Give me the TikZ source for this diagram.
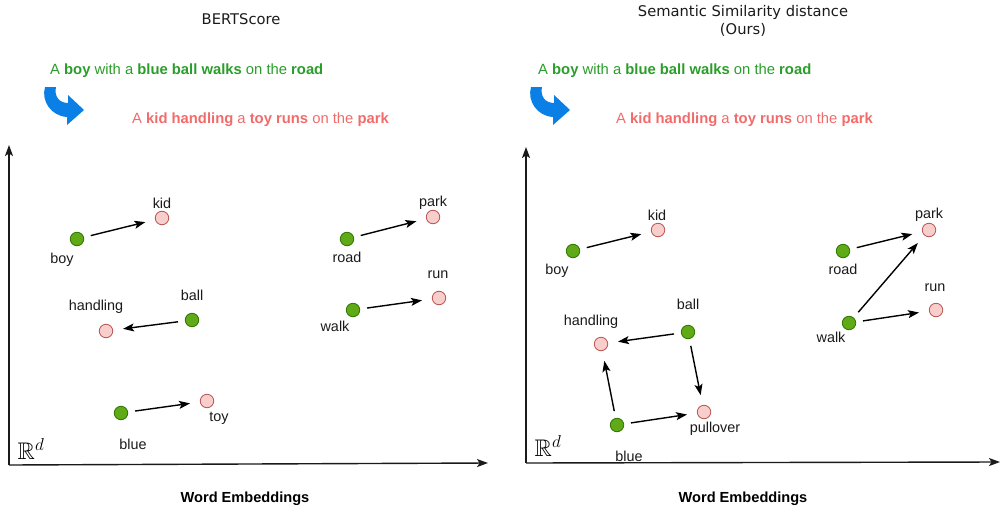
\documentclass[tikz,border=0pt]{standalone}
\usepackage{fontspec}
\usepackage{amssymb}
\setmainfont{Liberation Sans}
\newfontfamily\titlefont{DejaVu Sans}
\usetikzlibrary{arrows.meta}

\definecolor{dotgreen}{HTML}{60A917}
\definecolor{dotgreenline}{HTML}{2D7600}
\definecolor{dotpink}{HTML}{F8CECC}
\definecolor{dotpinkline}{HTML}{B85450}
\definecolor{txtgreen}{HTML}{2A9D2A}
\definecolor{txtred}{HTML}{F26B6B}
\definecolor{curlblue}{HTML}{0A7FE6}
\definecolor{ink}{HTML}{1A1A1A}

\tikzset{
  src/.style={circle, fill=dotgreen, draw=dotgreenline, line width=0.8pt,
              minimum size=13.5pt, inner sep=0pt},
  tgt/.style={circle, fill=dotpink, draw=dotpinkline, line width=0.8pt,
              minimum size=13.5pt, inner sep=0pt},
  lbl/.style={text=ink, inner sep=0pt, font=\fontsize{14.4}{15}\selectfont},
  title/.style={text=ink, inner sep=0pt, align=center,
                font=\titlefont\fontsize{14.7}{18}\selectfont},
  sent/.style={inner sep=0pt, anchor=west, font=\fontsize{14.8}{16}\selectfont},
  xlabel/.style={text=black, inner sep=0pt, font=\bfseries\fontsize{14.6}{15}\selectfont},
  rd/.style={text=black, inner sep=0pt, font=\fontsize{24}{24}\selectfont},
  move/.style={draw=black, line width=1.4pt, shorten <=7pt, shorten >=10pt,
               -{Stealth[length=11pt,width=8pt,inset=2.5pt]}},
  axis/.style={draw=ink, line width=1.4pt,
               -{Stealth[length=11pt,width=8pt,inset=2.5pt]}},
  curl/.style={fill=curlblue, draw=none}
}

% curved "becomes" arrow, top-left corner at the given offset
\newcommand{\curlarrow}[2]{%
  \fill[curl, shift={(#1,#2)}]
    (0,0) .. controls (-4,14) and (6,29) .. (22,30)
    -- (22,38) -- (39,23) -- (23,8) -- (23,16)
    .. controls (14,16) and (9,9) .. (11,0) -- cycle;}

\begin{document}
\begin{tikzpicture}[x=1pt,y=-1pt]
\useasboundingbox (0,0) rectangle (1000,511);

% ---------------- left panel: BERTScore ----------------
\node[title] (titleL) at (241,19) {BERTScore};
\node[sent, text=txtgreen] (srcL) at (50,71)
  {A \textbf{boy} with a \textbf{blue ball walks} on the \textbf{road}};
\node[sent, text=txtred] (tgtL) at (132,120)
  {A \textbf{kid handling} a \textbf{toy runs} on the \textbf{park}};
\curlarrow{45}{87}

\coordinate (oL) at (9,465);
\coordinate (yL) at (9,145);
\coordinate (xL) at (488,463);
\draw[axis] (oL) -- (yL);
\draw[axis] (oL) -- (xL);
\node[rd] (rdL) at (31,449) {$\mathbb{R}^d$};
\node[xlabel] (xlL) at (245,499) {Word Embeddings};

\node[src] (boyL) at (77,239) {};
\node[tgt] (kidL) at (162,218) {};
\node[src] (ballL) at (192,320) {};
\node[tgt] (handL) at (106,331) {};
\node[src] (blueL) at (121,413) {};
\node[tgt] (toyL) at (207,401) {};
\node[src] (roadL) at (347,239) {};
\node[tgt] (parkL) at (433,217) {};
\node[src] (walkL) at (353,310) {};
\node[tgt] (runL) at (439,298) {};

\node[lbl] at (62,260) {boy};
\node[lbl] at (162,203) {kid};
\node[lbl] at (192,295) {ball};
\node[lbl] at (96,307) {handling};
\node[lbl] at (133,444) {blue};
\node[lbl] at (219,418) {toy};
\node[lbl] at (347,257) {road};
\node[lbl] at (433,203) {park};
\node[lbl] at (335,326) {walk};
\node[lbl] at (438,275) {run};

\draw[move] (boyL) -- (kidL);
\draw[move] (ballL) -- (handL);
\draw[move] (blueL) -- (toyL);
\draw[move] (roadL) -- (parkL);
\draw[move] (walkL) -- (runL);

% ---------------- right panel: ours ----------------
\node[title] (titleR) at (743,21) {Semantic Similarity distance\\(Ours)};
\node[sent, text=txtgreen] (srcR) at (538,71)
  {A \textbf{boy} with a \textbf{blue ball walks} on the \textbf{road}};
\node[sent, text=txtred] (tgtR) at (616,120)
  {A \textbf{kid handling} a \textbf{toy runs} on the \textbf{park}};
\curlarrow{531}{87}

\coordinate (oR) at (526,463);
\coordinate (yR) at (526,147);
\coordinate (xR) at (1000,462);
\draw[axis] (oR) -- (yR);
\draw[axis] (oR) -- (xR);
\node[rd] (rdR) at (548,446) {$\mathbb{R}^d$};
\node[xlabel] (xlR) at (743,499) {Word Embeddings};

\node[src] (boyR) at (573,251) {};
\node[tgt] (kidR) at (658,230) {};
\node[src] (ballR) at (688,332) {};
\node[tgt] (handR) at (601,344) {};
\node[src] (blueR) at (617,425) {};
\node[tgt] (pullR) at (704,412) {};
\node[src] (roadR) at (843,251) {};
\node[tgt] (parkR) at (929,230) {};
\node[src] (walkR) at (849,323) {};
\node[tgt] (runR) at (936,310) {};

\node[lbl] at (557,271) {boy};
\node[lbl] at (657,215) {kid};
\node[lbl] at (688,304) {ball};
\node[lbl] at (591,322) {handling};
\node[lbl] at (629,456) {blue};
\node[lbl] at (715,429) {pullover};
\node[lbl] at (843,269) {road};
\node[lbl] at (929,215) {park};
\node[lbl] at (831,337) {walk};
\node[lbl] at (935,288) {run};

\draw[move] (boyR) -- (kidR);
\draw[move] (ballR) -- (handR);
\draw[move] (ballR) -- (pullR);
\draw[move] (blueR) -- (handR);
\draw[move] (blueR) -- (pullR);
\draw[move] (roadR) -- (parkR);
\draw[move] (walkR) -- (parkR);
\draw[move] (walkR) -- (runR);
\end{tikzpicture}
\end{document}
